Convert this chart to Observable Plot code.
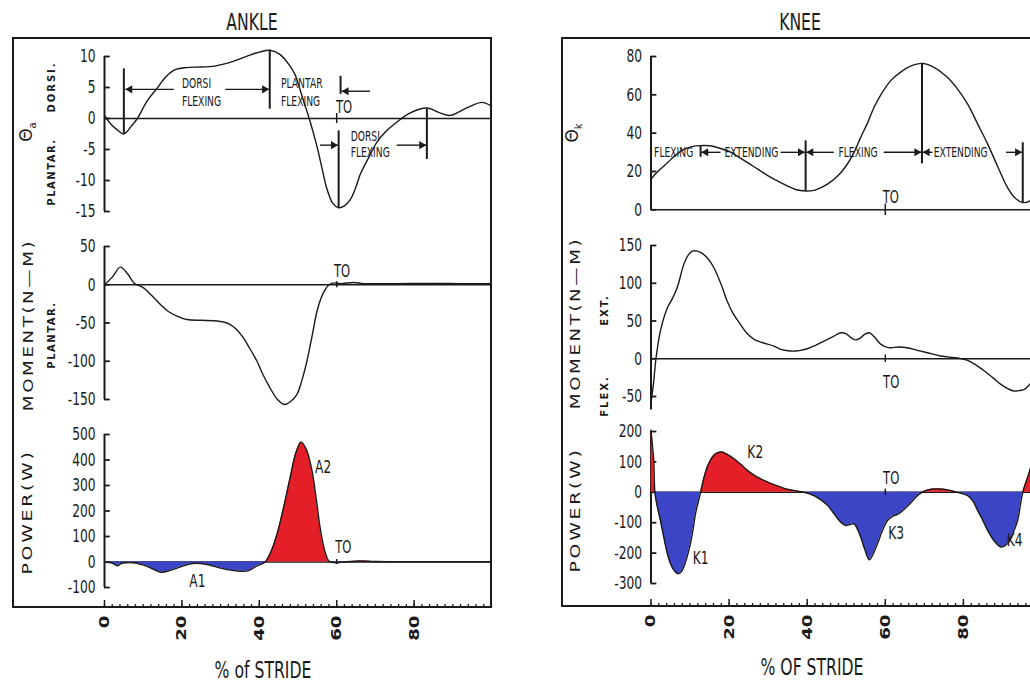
<!DOCTYPE html>
<html><head><meta charset="utf-8">
<script src="https://cdn.jsdelivr.net/npm/d3@7"></script>
<script src="https://cdn.jsdelivr.net/npm/@observablehq/plot@0.6"></script>
<style>
html,body{margin:0;padding:0;background:#fff}
#root{position:relative;width:1030px;height:684px;overflow:hidden;background:#fff}
#root svg{position:absolute;max-width:none}
.lbl{position:absolute;white-space:nowrap;line-height:1;color:#1a1a1a}
.box{position:absolute;border:2px solid #1a1a1a;box-sizing:border-box;pointer-events:none}
</style></head><body><div id="root"></div>
<script>
// ===================== DATA =====================
const strideTicks = [0, 20, 40, 60, 80];
const strideMinor = d3.range(0, 101, 2);
const toeOff = 60;

// ---- ANKLE angle (deg) ----
const ankleAngleX = [0, 1.5, 3.2, 5, 7.1, 8.5, 11, 13.6, 16, 18, 21, 25, 28, 31, 34, 37, 40, 42.7, 45.4, 48, 49.3, 50.1, 51.6, 52.9, 54.9, 56.2, 57.4, 59, 60.5, 62, 63.5, 65, 66.1, 68.6, 70.4, 72.5, 74.7, 79, 83.3, 86.7, 89.3, 93.6, 97.5, 100];
const ankleAngleY = [0.5, -0.8, -1.8, -2.5, -1.1, 0, 2.8, 4.9, 6.8, 7.8, 8.2, 8.3, 8.4, 8.8, 9.4, 10.1, 10.7, 11, 10.3, 8.4, 7.0, 5.5, 2.5, 0, -4.5, -8, -11.2, -13.7, -14.4, -14.1, -13.1, -11, -9, -5.9, -3.8, -2.2, -1.0, 0.9, 1.7, 0.9, 0.5, 1.7, 2.6, 2.0];
const ankleAngleTicks = [-15, -10, -5, 0, 5, 10];
const ankleMarkX = [5, 42.7, 60.5, 83.3, 61];
const ankleMarkTop = [8, 11, -2, 1.5, 6.8];
const ankleMarkBottom = [-2.5, 1.5, -14.4, -6.6, 3.9];
const ankleArrowFrom = [17.9, 31.2, 68.6, 55.7, 75.5];
const ankleArrowTo = [5.4, 42.5, 61.3, 60.3, 83.1];
const ankleArrowY = [4.7, 4.7, 4.4, -4.3, -4.3];
const ankleNotes = ["DORSI", "FLEXING", "PLANTAR", "FLEXING", "DORSI", "FLEXING"];
const ankleNoteX = [20, 20, 45.6, 45.6, 63.6, 63.6];
const ankleNoteY = [5.6, 2.7, 5.6, 2.7, -2.9, -5.5];

// ---- ANKLE moment (N-M) ----
const ankleMomentX = [0, 2, 4.1, 6, 7.6, 10.1, 12, 14.5, 16.5, 18.7, 21.3, 25, 28.2, 31, 32.5, 34, 35.9, 37.5, 39.4, 41, 42.8, 44.7, 46.5, 48, 49.7, 51, 52.3, 53.6, 54.9, 56, 57, 58, 59.2, 61, 64.4, 67, 75, 85, 92, 100];
const ankleMomentY = [0, 10, 23, 14, 2.4, -4, -13, -26, -35, -41, -45.5, -46.5, -47, -49, -52, -58, -69.5, -83, -100, -118, -135, -150, -156.6, -153, -143.5, -125, -100, -68, -34.6, -17, -6.3, 0, 2.4, 1.5, 3, 1.5, 1.5, 1.8, 1.5, 1.5];
const ankleMomentTicks = [-150, -100, -50, 0, 50];

// ---- ANKLE power (W) ----
const anklePowerX = [0, 2, 3.3, 4.3, 5.5, 8, 11, 14.5, 17, 19.5, 22, 23.5, 26.5, 29, 31.7, 35, 37, 39.4, 41.5, 43, 44.6, 46.3, 48, 49.5, 50.8, 52.2, 53.6, 54.7, 55.7, 56.8, 57.9, 58.5, 60, 62, 66, 70, 80, 100];
const anklePowerY = [0, -4, -15, -6, -3, -4, -17, -40, -33, -20, -8, -5, -10, -20, -30, -36, -35, -15, 0, 40, 110, 215, 333, 430, 470, 440, 359, 250, 136, 50, 5, 0, -3, 0, 4, 2, 1, 1];
const anklePowerTicks = [-100, 0, 100, 200, 300, 400, 500];
const anklePowerLabels = ["A1", "A2"];
const anklePowerLabelX = [24, 56.5];
const anklePowerLabelY = [-75, 370];

// ---- KNEE angle (deg) ----
const kneeAngleX = [0, 2, 4.2, 6, 8.4, 10.5, 12.7, 15, 17, 20, 22.9, 26, 29.8, 32, 34.9, 37, 39.6, 42, 45.2, 48, 50.3, 52, 53.7, 55.5, 57.1, 59, 61.4, 64, 66.5, 69.4, 72, 75.9, 78.5, 81.1, 83.6, 86.2, 88.8, 91.3, 93.3, 95.2, 97.3, 100];
const kneeAngleY = [16, 20.5, 24.5, 28, 31.5, 33, 33.5, 33.4, 32.5, 30.5, 27, 23, 18, 15.5, 12.5, 10.6, 9.8, 10.3, 13.4, 18, 23.9, 30, 37.8, 45.5, 53.4, 60.5, 67.4, 72, 75, 76.4, 74.8, 69.2, 63, 55.2, 45, 34.4, 22.5, 11.6, 6, 3.8, 5, 13];
const kneeAngleTicks = [0, 20, 40, 60, 80];
const kneeMarkX = [12.7, 39.6, 69.4, 95.2];
const kneeMarkTop = [33.5, 36, 76.4, 35];
const kneeMarkBottom = [27.4, 9.8, 24, 3.8];
const kneeArrowFrom = [17.8, 33.2, 46.8, 59.6, 72.1, 90.9];
const kneeArrowTo = [12.9, 39.4, 39.8, 69.2, 69.6, 95.0];
const kneeArrowY = [30, 30, 30, 30, 30, 30];
const kneeNotes = ["FLEXING", "EXTENDING", "FLEXING", "EXTENDING"];
const kneeNoteX = [0.8, 18.8, 48.0, 72.4];
const kneeNoteY = [30, 30, 30, 30];

// ---- KNEE moment (N-M) ----
const kneeMomentX = [0, 0.7, 1.2, 2.4, 4.2, 5.5, 6.7, 8.4, 9.5, 10.6, 12.7, 14.5, 16.1, 18, 19.5, 21, 22.9, 24.5, 26.4, 28.5, 31.5, 33.5, 35.8, 38, 40, 42, 44.3, 46.5, 48.6, 50, 51.2, 52.3, 53.5, 54.6, 55.9, 57.5, 58.9, 60.5, 61.5, 63.5, 65.6, 68, 70.8, 74.2, 78.5, 81.1, 83, 85.4, 87.5, 89.6, 91.5, 93, 94.5, 95.6, 97.3, 100];
const kneeMomentY = [-58, -30, -3, 36.7, 67.5, 80, 94, 125, 137, 142.6, 141, 133, 120.5, 98, 76.4, 60, 45.6, 34, 25.7, 21.5, 16.8, 12, 10.2, 10.8, 13.2, 17.5, 23.4, 29, 34.4, 33, 28, 25, 27, 32, 34.4, 27, 19, 15, 14.6, 15.5, 14.6, 11.5, 8, 3.6, 1, -2.2, -7.5, -16.3, -25, -34, -40, -42.8, -42, -40.6, -32, -18];
const kneeMomentTicks = [-50, 0, 50, 100, 150];

// ---- KNEE power (W) ----
const kneePowerX = [0, 0.4, 0.7, 1, 1.5, 2.4, 3.3, 4.2, 5, 5.9, 6.9, 7.7, 8.4, 9.3, 10.1, 10.8, 11.4, 12.7, 13.5, 14.4, 15.2, 16.1, 17, 18.1, 19.5, 21.2, 23, 24.7, 26.7, 28.9, 31.5, 34.9, 39.2, 41.7, 43.5, 45.2, 46.5, 47.8, 49, 49.9, 51, 52, 53, 53.7, 54.8, 55.9, 57, 58, 59.3, 60.6, 62, 63.1, 64.3, 65.6, 67, 68.2, 69.4, 71, 72.5, 74, 75.9, 78.5, 81.1, 82.5, 83.6, 85, 86.2, 88, 89.6, 91, 92.2, 93, 93.9, 95.2, 96.9, 98.5, 100];
const kneePowerY = [204, 150, 105, 0, -40, -92, -150, -202, -235, -257, -268, -262, -246, -210, -169, -120, -70, 0, 45, 83, 105, 122, 130, 132.6, 125, 111, 92, 72, 54, 39, 25, 10, 0, -11, -25, -43, -64, -87, -103, -109, -106, -104, -125, -147, -190, -222, -200, -169, -125, -92, -78, -73, -62, -47, -28, -11, 0, 8, 11, 11, 8, 0, -11, -30, -59, -93, -125, -162, -180, -172, -152, -125, -92, 0, 67, 140, 204];
const kneePowerTicks = [-300, -200, -100, 0, 100, 200];
const kneePowerLabels = ["K1", "K2", "K3", "K4"];
const kneePowerLabelX = [12.7, 26.7, 62.8, 93.1];
const kneePowerLabelY = [-217, 132, -135, -158];

// ===================== STYLE =====================
const INK = "#1a1a1a";
const RED = "#e41f27";
const BLUE = "#3c45c6";
const FONT = `"DejaVu Sans", Verdana, sans-serif`;
const SQUEEZE = 0.68;   // plotter-style narrow lettering
const root = document.getElementById("root");

const pts = (xs, ys) => xs.map((x, i) => ({x, y: ys[i], zero: 0}));
function place(node, left, top) { node.style.left = left + "px"; node.style.top = top + "px"; root.appendChild(node); }
function squeeze(svg, factor, selector = "text") {
  svg.querySelectorAll(selector).forEach(t => {
    const L = t.getComputedTextLength();
    if (L > 0) { t.setAttribute("textLength", (L * factor).toFixed(2)); t.setAttribute("lengthAdjust", "spacingAndGlyphs"); }
  });
}

function curve(xs, ys, filled) {
  const data = pts(xs, ys);
  const out = [];
  if (filled) {
    if (typeof Plot.differenceY === "function") {
      out.push(Plot.differenceY(data, {x: "x", y1: "zero", y2: "y", positiveFill: RED, negativeFill: BLUE, fillOpacity: 1, stroke: "none", curve: "catmull-rom"}));
    } else {
      out.push(Plot.areaY(data, {x: "x", y1: 0, y2: d => Math.max(0, d.y), fill: RED, curve: "catmull-rom"}));
      out.push(Plot.areaY(data, {x: "x", y1: 0, y2: d => Math.min(0, d.y), fill: BLUE, curve: "catmull-rom"}));
    }
  }
  out.push(Plot.line(data, {x: "x", y: "y", curve: "catmull-rom", stroke: INK, strokeWidth: 1.4}));
  return out;
}
function phaseMarks(mx, top, bottom, af, at, ay, notes, nx, ny) {
  const right = (d, i) => at[i] > af[i];
  const left = (d, i) => at[i] < af[i];
  return [
    Plot.ruleX(mx, {y1: (d, i) => top[i], y2: (d, i) => bottom[i], stroke: INK, strokeWidth: 2}),
    Plot.link(af, {x1: d => d, x2: (d, i) => at[i], y1: (d, i) => ay[i], y2: (d, i) => ay[i], stroke: INK, strokeWidth: 1.4}),
    Plot.dot(at, {filter: right, x: d => d, y: (d, i) => ay[i], symbol: "triangle", r: 3, rotate: 90, dx: -4.5, fill: INK, stroke: "none"}),
    Plot.dot(at, {filter: left, x: d => d, y: (d, i) => ay[i], symbol: "triangle", r: 3, rotate: -90, dx: 4.5, fill: INK, stroke: "none"}),
    Plot.text(notes, {x: (d, i) => nx[i], y: (d, i) => ny[i], text: d => d, textAnchor: "start", fontSize: 13.5, fill: INK})
  ];
}
const toLabel = (x, y, half) => [
  Plot.ruleX([toeOff], {y1: -half, y2: half, stroke: INK, strokeWidth: 1.5}),
  Plot.text(["TO"], {x: () => x, y: () => y, text: d => d, fontSize: 17, fill: INK})
];

function panel(g, p) {
  const svg = Plot.plot({
    width: g.width, height: p.height,
    marginLeft: g.ml, marginRight: 0, marginTop: p.mt, marginBottom: p.mb,
    x: {domain: [0, 100], axis: null},
    y: {domain: p.domain, axis: null},
    style: {background: "transparent", overflow: "visible", fontFamily: FONT, fontSize: "18px", color: INK},
    marks: [
      Plot.axisY({ticks: p.ticks, tickSize: 0, tickPadding: 9, fontSize: 18, tickFormat: d => String(d), label: null}),
      Plot.ruleX([0], {y1: p.axis[0], y2: p.axis[1], stroke: INK, strokeWidth: 2}),
      Plot.ruleY(p.ticks, {x1: 0, x2: 1.5, stroke: INK, strokeWidth: 1.8}),
      Plot.ruleY([0], {x1: 0, x2: 100, stroke: INK, strokeWidth: 1.5}),
      ...p.marks
    ]
  });
  place(svg, g.left, p.top);
  squeeze(svg, SQUEEZE);
}
function strideAxis(g, top) {
  const svg = Plot.plot({
    width: g.width, height: 84,
    marginLeft: g.ml, marginRight: 0, marginTop: 0, marginBottom: 77,
    x: {domain: [0, 100], axis: null},
    style: {background: "transparent", overflow: "visible", fontFamily: FONT, fontSize: "14px", color: INK},
    marks: [
      Plot.tickX(strideMinor, {x: d => d, stroke: INK, strokeWidth: 1.3, insetTop: 4}),
      Plot.tickX(strideTicks, {x: d => d, stroke: INK, strokeWidth: 1.5}),
      Plot.axisX({ticks: strideTicks, tickSize: 0, tickPadding: 8, tickRotate: -90, fontSize: 14, fontWeight: "bold", tickFormat: d => String(d), label: null})
    ]
  });
  place(svg, g.left, top);
  squeeze(svg, 1.3);
}
function label(txt, cx, cy, o = {}) {
  const d = document.createElement("div");
  d.className = "lbl";
  if (o.html) d.innerHTML = txt; else d.textContent = txt;
  Object.assign(d.style, {
    left: cx + "px", top: cy + "px", fontSize: (o.size || 16) + "px",
    fontFamily: FONT, fontWeight: o.weight || "normal",
    letterSpacing: (o.spacing || 0) + "px",
    transform: `translate(-50%,-50%) rotate(${o.rotate || 0}deg) scaleX(${o.sx || 1})`
  });
  root.appendChild(d);
}

// ===================== LAYOUT =====================
const ankleCol = {left: 12, width: 479, ml: 92};
const kneeCol = {left: 561, width: 480, ml: 89.5};

panel(ankleCol, {top: 38, height: 190, mt: 18, mb: 17, domain: [-15, 10], ticks: ankleAngleTicks, axis: [-15, 10],
  marks: [...curve(ankleAngleX, ankleAngleY, false),
          ...phaseMarks(ankleMarkX, ankleMarkTop, ankleMarkBottom, ankleArrowFrom, ankleArrowTo, ankleArrowY, ankleNotes, ankleNoteX, ankleNoteY),
          ...toLabel(61.9, 1.8, 0.8)]});
panel(ankleCol, {top: 228, height: 190, mt: 18, mb: 19, domain: [-150, 50], ticks: ankleMomentTicks, axis: [-150, 50],
  marks: [...curve(ankleMomentX, ankleMomentY, false), ...toLabel(61.4, 17.6, 4)]});
panel(ankleCol, {top: 418, height: 189, mt: 16, mb: 20, domain: [-100, 500], ticks: anklePowerTicks, axis: [-100, 500],
  marks: [...curve(anklePowerX, anklePowerY, true), ...toLabel(61.7, 57, 10),
          Plot.text(anklePowerLabels, {x: (d, i) => anklePowerLabelX[i], y: (d, i) => anklePowerLabelY[i], text: d => d, fontSize: 18, fill: INK})]});
strideAxis(ankleCol, 600);

panel(kneeCol, {top: 38, height: 190, mt: 18, mb: 18.7, domain: [0, 80], ticks: kneeAngleTicks, axis: [0, 80],
  marks: [...curve(kneeAngleX, kneeAngleY, false),
          ...phaseMarks(kneeMarkX, kneeMarkTop, kneeMarkBottom, kneeArrowFrom, kneeArrowTo, kneeArrowY, kneeNotes, kneeNoteX, kneeNoteY),
          ...toLabel(61.4, 6.6, 3)]});
panel(kneeCol, {top: 228, height: 190, mt: 17, mb: 22, domain: [-50, 150], ticks: kneeMomentTicks, axis: [-68, 150],
  marks: [...curve(kneeMomentX, kneeMomentY, false), ...toLabel(61.5, -31, 5)]});
panel(kneeCol, {top: 418, height: 188, mt: 13, mb: 23, domain: [-300, 200], ticks: kneePowerTicks, axis: [-300, 200],
  marks: [...curve(kneePowerX, kneePowerY, true), ...toLabel(61.5, 46, 10),
          Plot.text(kneePowerLabels, {x: (d, i) => kneePowerLabelX[i], y: (d, i) => kneePowerLabelY[i], text: d => d, fontSize: 18, fill: INK})]});
strideAxis(kneeCol, 599);

// frames
for (const [l, t, w, h] of [[12, 37, 480, 571], [561, 37, 482, 570]]) {
  const b = document.createElement("div"); b.className = "box";
  Object.assign(b.style, {left: l + "px", top: t + "px", width: w + "px", height: h + "px"});
  root.appendChild(b);
}

// titles & axis labels
label("ANKLE", 252, 22, {size: 23, sx: SQUEEZE});
label("KNEE", 800, 22, {size: 23, sx: SQUEEZE});
label("% of STRIDE", 263, 670, {size: 23, sx: SQUEEZE});
label("% OF STRIDE", 812, 667, {size: 23, sx: SQUEEZE});
label("Θ<sub style='font-size:10px'>a</sub>", 28, 132, {html: true, size: 17, rotate: -90});
label("Θ<sub style='font-size:10px'>k</sub>", 574, 133, {html: true, size: 17, rotate: -90});
label("PLANTAR.", 52, 172, {weight: "bold", size: 10, spacing: 1.5, rotate: -90});
label("DORSI.", 52, 87, {weight: "bold", size: 10, spacing: 2, rotate: -90});
label("MOMENT(N—M)", 28, 325, {size: 14, spacing: 2, rotate: -90, sx: 1.3});
label("PLANTAR.", 52, 335, {weight: "bold", size: 10, spacing: 1.5, rotate: -90});
label("POWER(W)", 27, 512, {size: 14, spacing: 2, rotate: -90, sx: 1.35});
label("MOMENT(N—M)", 575, 323, {size: 14, spacing: 2, rotate: -90, sx: 1.3});
label("EXT.", 605, 310, {weight: "bold", size: 10, spacing: 2, rotate: -90});
label("FLEX.", 605, 396, {weight: "bold", size: 10, spacing: 2, rotate: -90});
label("POWER(W)", 575, 510, {size: 14, spacing: 2, rotate: -90, sx: 1.35});
</script></body></html>
